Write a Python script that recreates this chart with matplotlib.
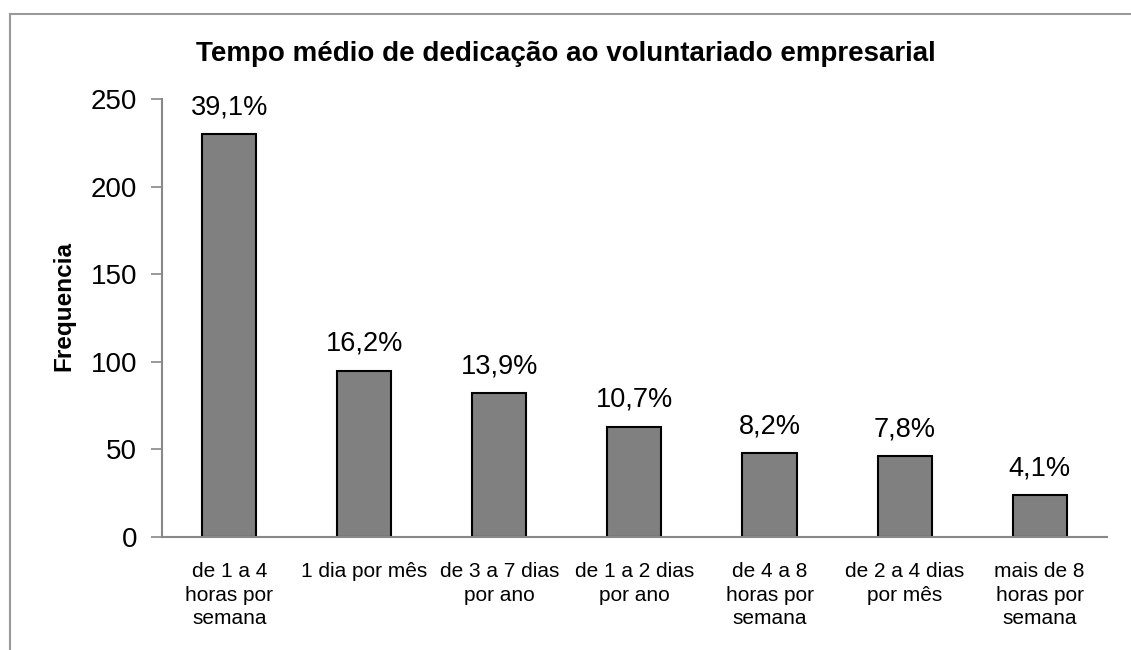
import matplotlib.pyplot as plt
from matplotlib.lines import Line2D

# dados
categorias = ['de 1 a 4\nhoras por\nsemana', '1 dia por mês', 'de 3 a 7 dias\npor ano',
              'de 1 a 2 dias\npor ano', 'de 4 a 8\nhoras por\nsemana', 'de 2 a 4 dias\npor mês',
              'mais de 8\nhoras por\nsemana']
frequencia = [230, 95, 82, 63, 48, 46, 24]
percentuais = ['39,1%', '16,2%', '13,9%', '10,7%', '8,2%', '7,8%', '4,1%']
yticks = [0, 50, 100, 150, 200, 250]

plt.rcParams['font.family'] = ['Liberation Sans', 'DejaVu Sans']

fig = plt.figure(figsize=(11.31, 6.5), dpi=100)
ax = fig.add_axes([0.1432, 0.1738, 0.8356, 0.6739])

x = range(len(categorias))
barras = ax.bar(x, frequencia, width=0.4, color='#808080', edgecolor='black', linewidth=1.5)
ax.bar_label(barras, labels=percentuais, padding=10, fontsize=19.5)

ax.set_xlim(-0.5, len(categorias) - 0.5)
ax.set_ylim(0, 250)
ax.set_yticks(yticks)
ax.set_xticks(list(x))
ax.set_xticklabels(categorias, fontsize=15, linespacing=1.3, va='top')
ax.tick_params(axis='x', length=0, pad=18)
ax.tick_params(axis='y', labelsize=20, length=8, width=1.2, color='#888888', pad=10)

for lado in ['top', 'right']:
    ax.spines[lado].set_visible(False)
for lado in ['left', 'bottom']:
    ax.spines[lado].set_color('#888888')
    ax.spines[lado].set_linewidth(1.5)

ax.set_ylabel('Frequencia', fontsize=17.5, fontweight='bold')
ax.yaxis.set_label_coords(-0.092, 0.527)

fig.text(0.5, 0.917, 'Tempo médio de dedicação ao voluntariado empresarial',
         ha='center', va='center', fontsize=20, fontweight='bold')

# moldura do grafico (esquerda e topo)
fig.add_artist(Line2D([10 / 1131, 10 / 1131], [0, 1 - 14 / 650], color='#999999', linewidth=1.5))
fig.add_artist(Line2D([10 / 1131, 1], [1 - 14 / 650, 1 - 14 / 650], color='#999999', linewidth=1.5))

fig.savefig('out.png', dpi=100)
